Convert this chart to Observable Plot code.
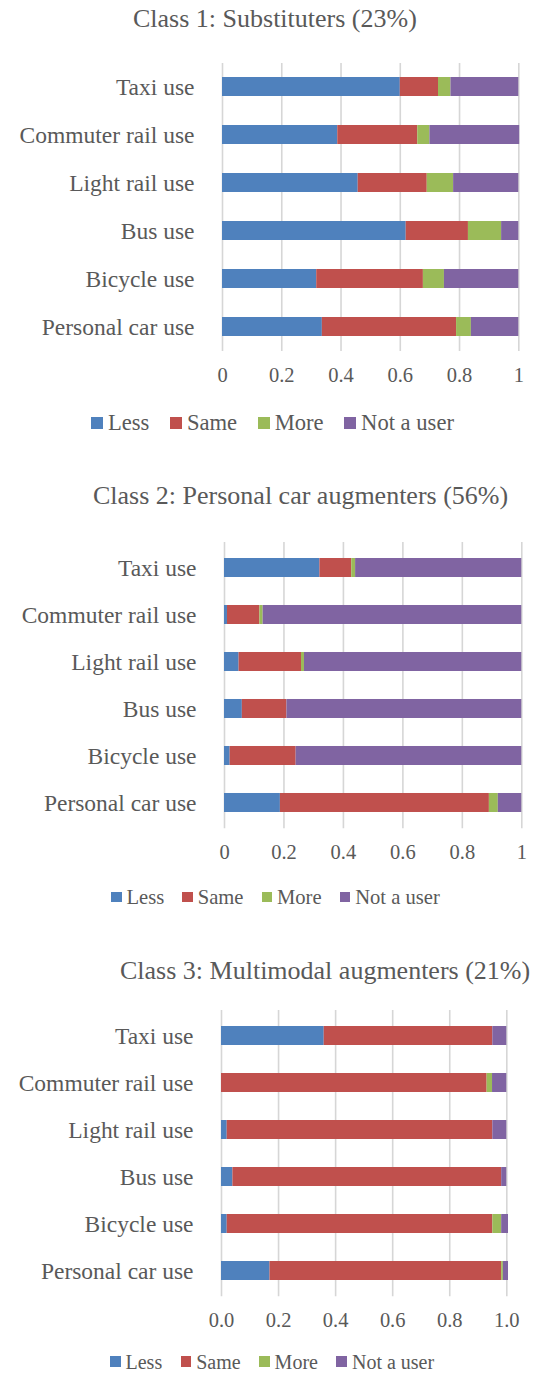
<!DOCTYPE html>
<html><head><meta charset="utf-8">
<script src="https://cdn.jsdelivr.net/npm/d3@7"></script>
<script src="https://cdn.jsdelivr.net/npm/@observablehq/plot@0.6"></script>
<style>
body{margin:0;background:#fff;}
#root{position:relative;width:539px;height:1374px;overflow:hidden;font-family:"Liberation Serif","Times New Roman",serif;color:#595959;}
.title{position:absolute;white-space:nowrap;line-height:30px;}
.legend{position:absolute;display:flex;align-items:center;white-space:nowrap;line-height:1;}
.sw{display:inline-block;}
.panel{position:absolute;left:0;}
</style></head><body><div id="root"></div>
<script>
// ---- data ----
const categories = ["Taxi use","Commuter rail use","Light rail use","Bus use","Bicycle use","Personal car use"];
const responses = ["Less","Same","More","Not a user"];
const titles = ["Class 1: Substituters (23%)","Class 2: Personal car augmenters (56%)","Class 3: Multimodal augmenters (21%)"];
const xTicks = [0,0.2,0.4,0.6,0.8,1];

const c1Less = [0.600,0.389,0.458,0.620,0.318,0.337];
const c1Same = [0.129,0.270,0.233,0.210,0.360,0.453];
const c1More = [0.042,0.041,0.089,0.112,0.071,0.050];
const c1NotUser = [0.229,0.303,0.220,0.058,0.251,0.160];

const c2Less = [0.321,0.010,0.049,0.060,0.019,0.188];
const c2Same = [0.107,0.109,0.210,0.150,0.222,0.703];
const c2More = [0.013,0.011,0.010,0.000,0.000,0.030];
const c2NotUser = [0.559,0.870,0.731,0.790,0.759,0.079];

const c3Less = [0.360,0.000,0.020,0.040,0.020,0.170];
const c3Same = [0.591,0.931,0.931,0.942,0.931,0.812];
const c3More = [0.000,0.019,0.000,0.000,0.031,0.006];
const c3NotUser = [0.049,0.050,0.049,0.018,0.024,0.018];

// ---- styles / layout ----
const colors = ["#4F81BD","#C0504D","#9BBB59","#8064A2"];
const textColor = "#595959";
const font = "'Liberation Serif','Times New Roman',serif";

const layout = [
  {series:[c1Less,c1Same,c1More,c1NotUser], fmt:d3.format("~g"), frameTop:63, frameH:288, ml:222, mr:20.7, yFont:23.5, xFont:20.5,
   titleLeft:133, titleTop:4, titleSize:26, legCenter:423, legLeft:91, legFont:22.6, sw:12, swGap:5, itemGap:20.5},
  {series:[c2Less,c2Same,c2More,c2NotUser], fmt:d3.format("~g"), frameTop:541.7, frameH:286.2, ml:224, mr:17.7, yFont:23.5, xFont:20.5,
   titleLeft:93, titleTop:480.5, titleSize:26, legCenter:897, legLeft:111, legFont:20.6, sw:10.5, swGap:5, itemGap:18},
  {series:[c3Less,c3Same,c3More,c3NotUser], fmt:d3.format(".1f"), frameTop:1009.7, frameH:286.3, ml:221, mr:32.7, yFont:23.5, xFont:20.5,
   titleLeft:120, titleTop:956, titleSize:26, legCenter:1361.5, legLeft:110, legFont:20, sw:10.5, swGap:5, itemGap:18.5}
];

const root = document.getElementById("root");
const marginTop = 10, marginBottom = 44;

layout.forEach((p, i) => {
  const data = [];
  categories.forEach((c, ci) => {
    responses.forEach((r, ri) => {
      data.push({cat: c, resp: r, value: p.series[ri][ci]});
    });
  });

  const chart = Plot.plot({
    width: 539,
    height: marginTop + p.frameH + marginBottom,
    marginTop, marginBottom,
    marginLeft: p.ml, marginRight: p.mr,
    style: {fontFamily: font, color: textColor, background: "transparent", overflow: "visible"},
    x: {domain: [0, 1], label: null},
    y: {domain: categories, label: null, paddingInner: 0.6, paddingOuter: 0.3},
    color: {domain: responses, range: colors},
    marks: [
      Plot.gridX(xTicks, {stroke: "#d6d6d6", strokeOpacity: 1, strokeWidth: 1.6}),
      Plot.barX(data, Plot.stackX({y: "cat", x: "value", fill: "resp", order: responses})),
      Plot.axisX(xTicks, {tickSize: 0, tickPadding: 16, tickFormat: p.fmt, fontSize: p.xFont, fill: textColor, label: null}),
      Plot.axisY({tickSize: 0, tickPadding: 28, fontSize: p.yFont, fill: textColor, label: null})
    ]
  });
  chart.classList.add("panel");
  chart.style.top = (p.frameTop - marginTop) + "px";
  root.appendChild(chart);

  const t = document.createElement("div");
  t.className = "title";
  t.textContent = titles[i];
  t.style.left = p.titleLeft + "px";
  t.style.top = p.titleTop + "px";
  t.style.fontSize = p.titleSize + "px";
  root.appendChild(t);

  const leg = document.createElement("div");
  leg.className = "legend";
  leg.style.left = p.legLeft + "px";
  leg.style.top = (p.legCenter - p.legFont / 2) + "px";
  leg.style.height = p.legFont + "px";
  leg.style.fontSize = p.legFont + "px";
  responses.forEach((r, ri) => {
    const sw = document.createElement("span");
    sw.className = "sw";
    sw.style.width = p.sw + "px";
    sw.style.height = p.sw + "px";
    sw.style.background = colors[ri];
    sw.style.marginRight = p.swGap + "px";
    leg.appendChild(sw);
    const lab = document.createElement("span");
    lab.textContent = r;
    if (ri < responses.length - 1) lab.style.marginRight = p.itemGap + "px";
    leg.appendChild(lab);
  });
  root.appendChild(leg);
});
</script>
</body></html>
